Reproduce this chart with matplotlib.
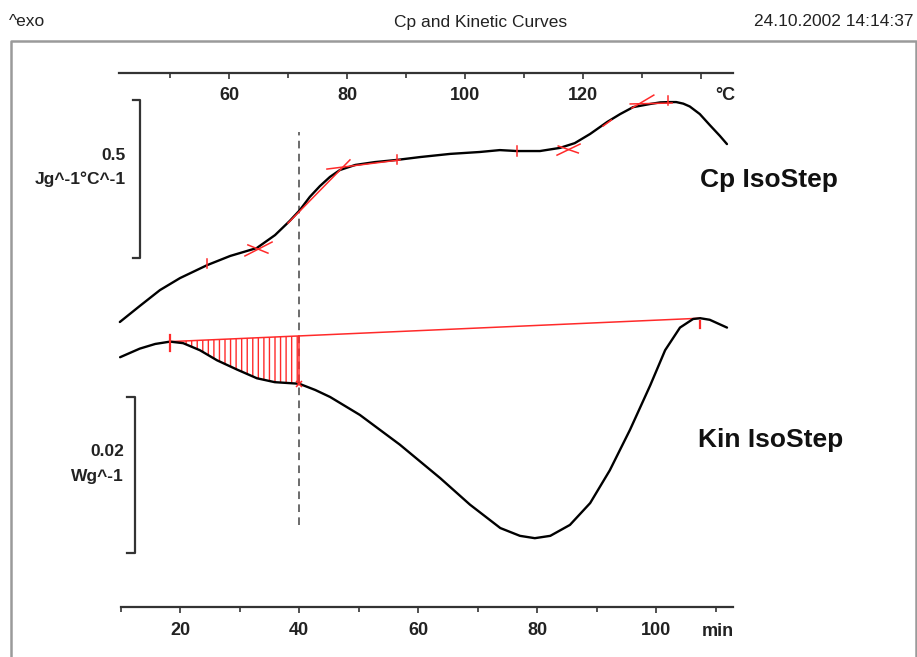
import numpy as np
import matplotlib
matplotlib.use("Agg")
import matplotlib.pyplot as plt

# ---------------- data ----------------
# Cp IsoStep curve: temperature (°C) vs Cp (J g^-1 °C^-1)
cp_temp = [41.5, 44.9, 48.3, 51.7, 56.3, 60.2, 64.7, 67.8, 70.3, 72.0, 73.7, 75.4,
           77.1, 78.8, 81.4, 84.7, 88.5, 92.4, 97.5, 102.5, 105.9, 108.8, 112.7,
           116.1, 118.6, 121.2, 124.1, 126.3, 128.5, 131.4, 133.1, 134.7, 135.8,
           137.0, 138.1, 139.8, 141.5, 143.2, 144.4]
cp_value = [1.000, 1.051, 1.101, 1.139, 1.180, 1.209, 1.234, 1.275, 1.320, 1.354,
            1.396, 1.430, 1.459, 1.481, 1.497, 1.506, 1.513, 1.522, 1.532, 1.538,
            1.544, 1.541, 1.541, 1.551, 1.566, 1.595, 1.633, 1.658, 1.680, 1.690,
            1.695, 1.696, 1.696, 1.691, 1.682, 1.658, 1.623, 1.589, 1.563]

# Kin IsoStep curve: time (min) vs heat flow (W g^-1)
kin_time = [9.9, 13.2, 15.8, 18.3, 20.5, 23.3, 26.2, 29.6, 32.9, 35.9, 40.0, 42.7,
            45.2, 50.2, 56.9, 63.7, 68.7, 73.8, 77.1, 79.6, 82.2, 85.5, 88.9, 92.2,
            95.6, 99.0, 101.5, 104.0, 106.2, 107.4, 109.0, 111.9]
kin_value = [0.0251, 0.0262, 0.0268, 0.0271, 0.0269, 0.0260, 0.0247, 0.0235,
             0.0224, 0.0219, 0.0217, 0.0209, 0.0200, 0.0177, 0.0139, 0.0096,
             0.0062, 0.0032, 0.0022, 0.0019, 0.0022, 0.0036, 0.0064, 0.0106,
             0.0158, 0.0215, 0.0260, 0.0289, 0.0300, 0.0301, 0.0299, 0.0289]

# evaluation limits of the kinetic peak (min) and the marked time
kin_limits = [18.3, 107.4]
kin_mark_time = 40.0

# red tangent / evaluation marks on the Cp curve: (T1, T2, Cp1, Cp2)
cp_tangents = [
    (62.7, 67.3, 1.209, 1.253),
    (63.2, 66.6, 1.244, 1.218),
    (56.3, 56.3, 1.199, 1.171),
    (70.0, 80.5, 1.313, 1.513),
    (76.6, 89.0, 1.484, 1.513),
    (88.5, 88.5, 1.528, 1.500),
    (108.8, 108.8, 1.557, 1.525),
    (115.6, 119.5, 1.528, 1.563),
    (115.8, 119.2, 1.557, 1.535),
    (123.4, 124.8, 1.620, 1.639),
    (128.3, 132.0, 1.677, 1.718),
    (128.0, 135.1, 1.690, 1.693),
    (134.4, 134.4, 1.715, 1.687),
]

# axis tick labels
time_major = [20, 40, 60, 80, 100]
time_minor = [10, 30, 50, 70, 90, 110]
temp_major = [60, 80, 100, 120, 140]
temp_major_labels = ["60", "80", "100", "120", ""]
temp_minor = [50, 70, 90, 110, 130]

# scale bars
cp_bar = 0.5
kin_bar = 0.02

# ---------------- layout (pixel geometry of the 917x657 canvas) ----------------
W, H = 917, 657
def fx(px):
    return px / W
def fy(py):
    return 1 - py / H

T_PX0, T_MIN0, T_SC = 120.7, 10.0, 5.95
HF_PX0, HF_SC = 553.0, 7800.0
C_PX0, C_T0, C_SC = 229.0, 60.0, 5.9
CP_PX0, CP_SC = 638.0, 316.0

def t_of(px):
    return T_MIN0 + (px - T_PX0) / T_SC
def hf_of(py):
    return (HF_PX0 - py) / HF_SC
def temp_of(px):
    return C_T0 + (px - C_PX0) / C_SC
def cp_of(py):
    return (CP_PX0 - py) / CP_SC

AX_COLOR = "#333333"
TXT = "#222222"
RED = "#ff2a2a"
BOLD_FONT = ["Liberation Sans", "DejaVu Sans"]
NARROW_FONT = ["Liberation Sans Narrow", "Liberation Sans", "DejaVu Sans"]
TICK_FS = 13

fig = plt.figure(figsize=(W / 100, H / 100), dpi=100)
fig.patch.set_facecolor("white")

def style_axis(ax, spine_y, x0, x1, major, labels, minor):
    ax.patch.set_visible(False)
    for s in ["top", "left", "right"]:
        ax.spines[s].set_visible(False)
    sp = ax.spines["bottom"]
    sp.set_position(("data", spine_y))
    sp.set_bounds(x0, x1)
    sp.set_linewidth(1.6)
    sp.set_color(AX_COLOR)
    ax.set_yticks([])
    ax.set_xticks(major)
    ax.set_xticklabels(labels, fontsize=TICK_FS, fontweight="bold",
                       family=BOLD_FONT, color=TXT)
    ax.set_xticks(minor, minor=True)
    ax.tick_params(axis="x", which="major", direction="out", length=4.5, width=1.2,
                   color=AX_COLOR, pad=6)
    ax.tick_params(axis="x", which="minor", direction="out", length=3.5, width=1.2,
                   color=AX_COLOR)

# ---- kinetic axes (time) ----
ax_k = fig.add_axes([0, 0, 1, 1])
ax_k.set_xlim(t_of(0), t_of(W))
ax_k.set_ylim(hf_of(H), hf_of(0))
style_axis(ax_k, hf_of(607.3), t_of(120.7), t_of(733), time_major,
           [str(v) for v in time_major], time_minor)

# ---- Cp axes (temperature) ----
ax_c = fig.add_axes([0, 0, 1, 1], label="cp")
ax_c.set_xlim(temp_of(0), temp_of(W))
ax_c.set_ylim(cp_of(H), cp_of(0))
style_axis(ax_c, cp_of(72.7), temp_of(119.3), temp_of(733), temp_major,
           temp_major_labels, temp_minor)

# ---- curves ----
ax_c.plot(cp_temp, cp_value, color="black", lw=1.7, solid_capstyle="round",
          solid_joinstyle="round", zorder=3)
ax_k.plot(kin_time, kin_value, color="black", lw=1.7, solid_capstyle="round",
          solid_joinstyle="round", zorder=3)

# Cp red evaluation marks
for (t1, t2, c1, c2) in cp_tangents:
    ax_c.plot([t1, t2], [c1, c2], color=RED, lw=1.1, zorder=4)

# Kinetic baseline and hatched area
kt = np.array(kin_time)
kv = np.array(kin_value)
i0 = int(np.argmin(np.abs(kt - kin_limits[0])))
i1 = int(np.argmin(np.abs(kt - kin_limits[1])))
y0, y1 = kv[i0], kv[i1]
def baseline(t):
    return y0 + (y1 - y0) * (np.asarray(t) - kt[i0]) / (kt[i1] - kt[i0])
ax_k.plot([kt[i0], kt[i1]], [y0, y1], color=RED, lw=1.1, zorder=2)
im = int(np.argmin(np.abs(kt - kin_mark_time)))
sel = slice(i0, im + 1)
plt.rcParams["hatch.linewidth"] = 1.0
ax_k.fill_between(kt[sel], baseline(kt[sel]), kv[sel], facecolor="none",
                  edgecolor=RED, hatch="|||", linewidth=0, zorder=2)
ax_k.plot([kt[im], kt[im]], [baseline(kt[im]), kv[im]], color=RED, lw=1.1, zorder=2)
ax_k.plot([kt[i0], kt[i0]], [y0 + 0.0009, y0 - 0.0012], color=RED, lw=1.6, zorder=4)
ax_k.plot([kt[i1], kt[i1]], [y1 - 0.0003, y1 - 0.0012], color=RED, lw=1.6, zorder=4)
ax_k.plot([kt[im]], [kv[im]], marker="x", color=RED, ms=5, mew=1.1, zorder=4)

# dashed vertical marker line
ax_k.plot([kin_mark_time, kin_mark_time], [hf_of(525), hf_of(132)], color="#444444",
          lw=1.1, dashes=(5, 3.5), zorder=1)

# ---- scale bars ----
cb_top = cp_of(100)
ax_c.plot([temp_of(133), temp_of(140), temp_of(140), temp_of(133)],
          [cb_top, cb_top, cb_top - cp_bar, cb_top - cp_bar], color=AX_COLOR, lw=1.6)
kb_top = hf_of(397)
ax_k.plot([t_of(127), t_of(135), t_of(135), t_of(127)],
          [kb_top, kb_top, kb_top - kin_bar, kb_top - kin_bar], color=AX_COLOR, lw=1.6)

def label(px, py, s, ha="right", fs=12.5, **kw):
    fig.text(fx(px), fy(py), s, ha=ha, va="center", fontsize=fs,
             fontweight="bold", family=BOLD_FONT, color=kw.get("color", TXT))

label(126, 156, "0.5")
label(126, 179, "Jg^-1°C^-1")
label(124, 452, "0.02")
label(124, 477, "Wg^-1")
label(735, 96, "°C", fs=TICK_FS)
label(734, 631, "min", fs=TICK_FS)
label(700, 180, "Cp IsoStep", ha="left", fs=19, color="#111111")
label(698, 440, "Kin IsoStep", ha="left", fs=19, color="#111111")

# header
fig.text(fx(9), fy(22), "^exo", ha="left", va="center", fontsize=12.5,
         family=NARROW_FONT, color=TXT)
fig.text(fx(481), fy(22), "Cp and Kinetic Curves", ha="center", va="center",
         fontsize=12.5, family=NARROW_FONT, color=TXT)
fig.text(fx(913), fy(22), "24.10.2002 14:14:37", ha="right", va="center",
         fontsize=12.5, family=NARROW_FONT, color=TXT)

# frame around the plotting area
frame = plt.Line2D([fx(10.7), fx(10.7), fx(915.7), fx(915.7)],
                   [fy(660), fy(41), fy(41), fy(660)], transform=fig.transFigure,
                   color="#9a9a9a", lw=1.8)
fig.add_artist(frame)

fig.savefig("out.png", dpi=100, facecolor="white")
